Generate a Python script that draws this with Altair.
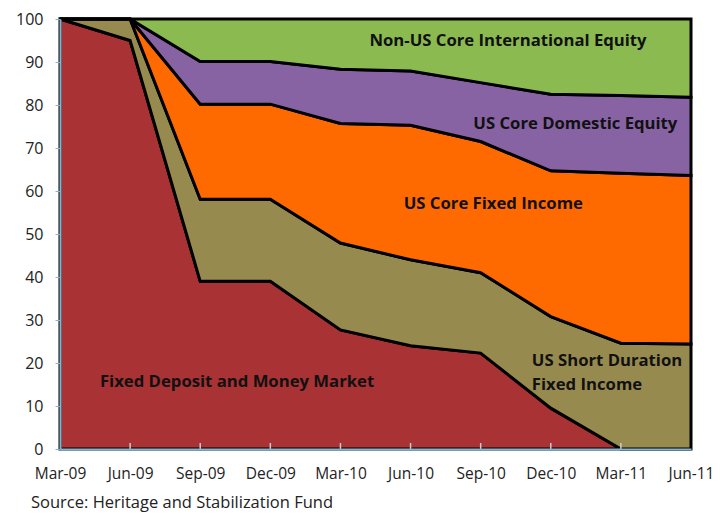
import json
import altair as alt
import pandas as pd

dates = ["Mar-09", "Jun-09", "Sep-09", "Dec-09", "Mar-10", "Jun-10", "Sep-10", "Dec-10", "Mar-11", "Jun-11"]
series = [
    "Fixed Deposit and Money Market",
    "US Short Duration Fixed Income",
    "US Core Fixed Income",
    "US Core Domestic Equity",
    "Non-US Core International Equity",
]
fixed_deposit = [100, 95, 39, 39, 27.7, 24, 22.3, 9.5, 0, 0]
short_duration = [0, 5, 19.1, 19.1, 20.2, 20, 18.7, 21.3, 24.6, 24.4]
core_fixed = [0, 0, 22.1, 22.1, 27.8, 31.3, 30.5, 33.9, 39.5, 39.2]
domestic_eq = [0, 0, 9.9, 9.9, 12.6, 12.6, 13.7, 17.8, 18.1, 18.2]
intl_eq = [0, 0, 9.9, 9.9, 11.7, 12.1, 14.8, 17.5, 17.8, 18.2]
colors = ["#A83234", "#978A4F", "#FF6A00", "#8763A3", "#8BBB50"]

# annotation labels (text, x in period index, y in %)
ann_text = ["Non-US Core International Equity", "US Core Domestic Equity", "US Core Fixed Income",
            "Fixed Deposit and Money Market", "US Short Duration", "Fixed Income"]
ann_x = [6.39, 7.35, 6.18, 0.57, 6.73, 6.73]
ann_y = [94.9, 75.6, 57.0, 15.6, 20.5, 14.9]
ann_align = ["center", "center", "center", "left", "left", "left"]

values = [fixed_deposit, short_duration, core_fixed, domestic_eq, intl_eq]
rows = []
for si, (name, vals) in enumerate(zip(series, values)):
    for di, v in enumerate(vals):
        rows.append({"idx": di, "date": dates[di], "series": name, "order": si, "value": v})
df = pd.DataFrame(rows)

ann = pd.DataFrame({"text": ann_text, "x": ann_x, "y": ann_y, "align": ann_align})
ticks_df = pd.DataFrame({"idx": list(range(1, len(dates) - 1))})

FONT = "Open Sans"
label_expr = json.dumps(dates) + "[datum.value]"

x_scale = alt.Scale(domain=[0, len(dates) - 1], nice=False, zero=False)
y_scale = alt.Scale(domain=[0, 100], nice=False)

area = alt.Chart(df).mark_area(stroke="black", strokeWidth=3, strokeJoin="miter", opacity=1).encode(
    x=alt.X("idx:Q", scale=x_scale, title=None,
            axis=alt.Axis(values=list(range(len(dates))), labelExpr=label_expr, grid=False,
                          labelOverlap=False, labelBound=False, labelFlush=False,
                          ticks=False, labelPadding=17, labelFontSize=15.5, labelColor="#222222",
                          labelFont=FONT, domainColor="#86B3CF", domainWidth=2, zindex=1)),
    y=alt.Y("value:Q", stack="zero", scale=y_scale, title=None,
            axis=alt.Axis(values=list(range(0, 101, 10)), grid=False, tickSize=5, tickColor="#86B3CF",
                          labelPadding=12, labelFontSize=16, labelColor="#222222", labelFont=FONT,
                          labelOverlap=False, domainColor="#86B3CF", domainWidth=2, zindex=1)),
    color=alt.Color("series:N", scale=alt.Scale(domain=series, range=colors), legend=None),
    order=alt.Order("order:Q", sort="ascending"),
)

ticks = alt.Chart(ticks_df).mark_rule(color="#CCCCCC", strokeWidth=1.5).encode(
    x=alt.X("idx:Q", scale=x_scale),
    y=alt.value(424),
    y2=alt.value(430),
)

def label_layer(align):
    return alt.Chart(ann[ann["align"] == align]).mark_text(
        font=FONT, fontSize=16.7, fontWeight="bold", color="#111111", baseline="middle", align=align
    ).encode(
        x=alt.X("x:Q", scale=x_scale),
        y=alt.Y("y:Q", scale=y_scale),
        text="text:N",
    )

source = alt.Chart(pd.DataFrame({"t": ["Source:  Heritage and Stabilization Fund"]})).mark_text(
    font=FONT, fontSize=16.5, color="#222222", align="left", baseline="middle"
).encode(x=alt.value(-29), y=alt.value(484), text="t:N")

chart = alt.layer(area, ticks, label_layer("center"), label_layer("left"), source).properties(
    width=631, height=430,
    autosize=alt.AutoSizeParams(type="none"),
    padding={"left": 52, "top": 11, "right": 23, "bottom": 66},
).configure_view(stroke=None).configure(font=FONT)

chart.save("out.html", embed_options={"renderer": "svg", "actions": False})
